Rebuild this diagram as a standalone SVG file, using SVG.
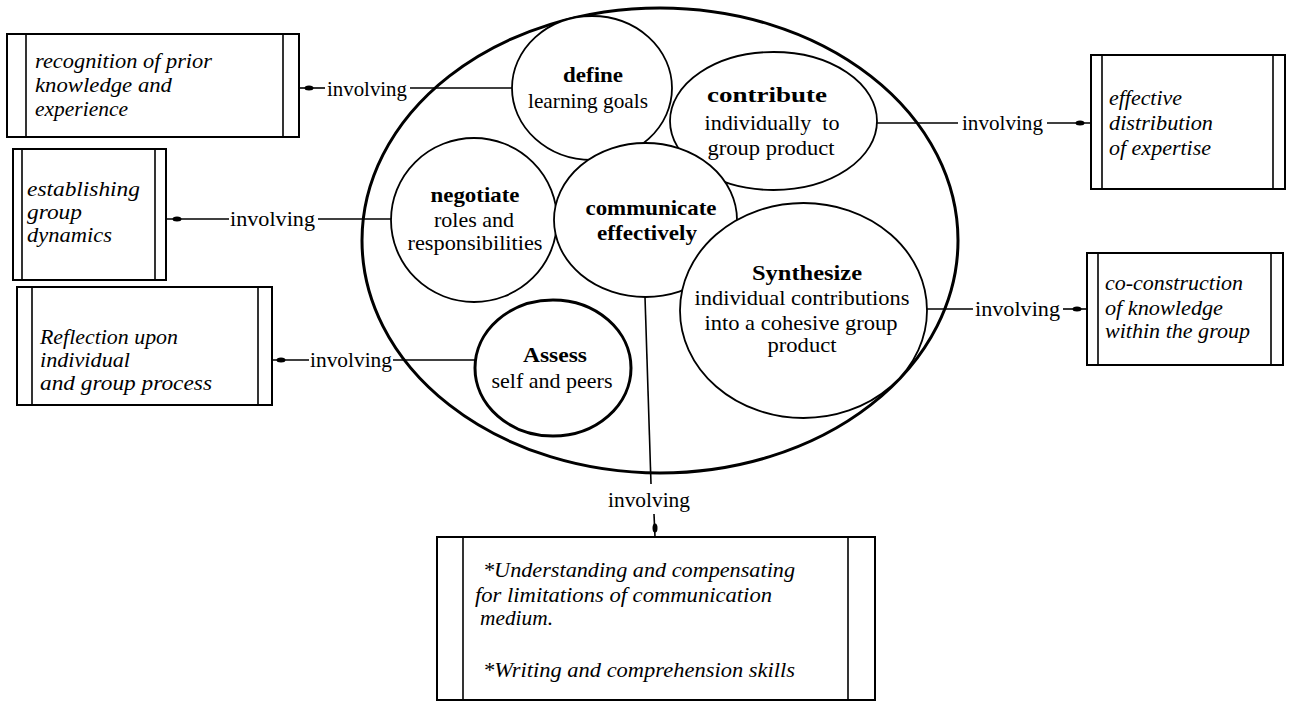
<svg xmlns="http://www.w3.org/2000/svg" width="1289" height="702" viewBox="0 0 1289 702">
<defs>
<style>
.bg{fill:#fff}
.box{fill:#fff;stroke:#000;stroke-width:2}
.bar{stroke:#000;stroke-width:1.6;fill:none}
.ell{fill:#fff;stroke:#000;stroke-width:1.8}
.big{fill:#fff;stroke:#000;stroke-width:3}
.thick{fill:#fff;stroke:#000;stroke-width:3}
.ln{stroke:#000;stroke-width:1.6;fill:none}
.dot{fill:#000}
.it{font-family:"Liberation Serif",serif;font-style:italic;font-size:21px;fill:#000}
.rg{font-family:"Liberation Serif",serif;font-size:21px;fill:#000;text-anchor:middle}
.bd{font-family:"Liberation Serif",serif;font-weight:bold;font-size:21px;fill:#000;text-anchor:middle}
.lb{font-family:"Liberation Serif",serif;font-size:21px;fill:#000}
</style>
</defs>
<rect class="bg" x="0" y="0" width="1289" height="702"/>

<g id="scope">
<ellipse class="big" cx="660" cy="240.5" rx="298" ry="232.5"/>
</g>

<g id="connectors">
<line class="ln" x1="299" y1="88" x2="325" y2="88"/>
<ellipse class="dot" cx="309" cy="88" rx="4.5" ry="2.5"/>
<text class="lb" x="327" y="96" textLength="80" lengthAdjust="spacingAndGlyphs">involving</text>
<line class="ln" x1="410" y1="88" x2="512" y2="88"/>
<line class="ln" x1="166" y1="219" x2="229" y2="219"/>
<ellipse class="dot" cx="177" cy="219" rx="4.5" ry="2.5"/>
<text class="lb" x="230" y="226" textLength="85" lengthAdjust="spacingAndGlyphs">involving</text>
<line class="ln" x1="318" y1="219" x2="392" y2="219"/>
<line class="ln" x1="272" y1="360" x2="309" y2="360"/>
<ellipse class="dot" cx="281" cy="360" rx="4.5" ry="2.5"/>
<text class="lb" x="310" y="367" textLength="82" lengthAdjust="spacingAndGlyphs">involving</text>
<line class="ln" x1="393" y1="360" x2="476" y2="360"/>
<line class="ln" x1="876" y1="123" x2="958" y2="123"/>
<text class="lb" x="962" y="130" textLength="81" lengthAdjust="spacingAndGlyphs">involving</text>
<line class="ln" x1="1047" y1="123" x2="1091" y2="123"/>
<ellipse class="dot" cx="1080" cy="123" rx="4.5" ry="2.5"/>
<line class="ln" x1="926" y1="309" x2="973" y2="309"/>
<text class="lb" x="975" y="316" textLength="85" lengthAdjust="spacingAndGlyphs">involving</text>
<line class="ln" x1="1063" y1="309" x2="1087" y2="309"/>
<ellipse class="dot" cx="1077" cy="309" rx="4.5" ry="2.5"/>
<line class="ln" x1="645" y1="297" x2="651" y2="484"/>
<text class="lb" x="608" y="507" textLength="82" lengthAdjust="spacingAndGlyphs">involving</text>
<line class="ln" x1="654" y1="514" x2="655" y2="537"/>
<ellipse class="dot" cx="655" cy="528" rx="2.5" ry="4.5"/>
</g>

<g id="define">
<ellipse class="ell" cx="592" cy="88" rx="80" ry="72"/>
<text class="bd" x="593" y="82" textLength="60" lengthAdjust="spacingAndGlyphs">define</text>
<text class="rg" x="588" y="108" textLength="120" lengthAdjust="spacingAndGlyphs">learning goals</text>
</g>

<g id="contribute">
<ellipse class="ell" cx="773.5" cy="121" rx="103.5" ry="69"/>
<text class="bd" x="767" y="102" textLength="120" lengthAdjust="spacingAndGlyphs">contribute</text>
<text class="rg" x="772" y="130" textLength="135" lengthAdjust="spacingAndGlyphs" xml:space="preserve">individually  to</text>
<text class="rg" x="771" y="155" textLength="127" lengthAdjust="spacingAndGlyphs">group product</text>
</g>

<g id="negotiate">
<ellipse class="ell" cx="474" cy="220" rx="83" ry="82"/>
<text class="bd" x="475" y="202" textLength="89" lengthAdjust="spacingAndGlyphs">negotiate</text>
<text class="rg" x="474" y="227" textLength="80" lengthAdjust="spacingAndGlyphs">roles and</text>
<text class="rg" x="475" y="250" textLength="135" lengthAdjust="spacingAndGlyphs">responsibilities</text>
</g>

<g id="communicate">
<ellipse class="ell" cx="645.5" cy="220" rx="91.5" ry="77"/>
<text class="bd" x="651" y="215" textLength="131" lengthAdjust="spacingAndGlyphs">communicate</text>
<text class="bd" x="647" y="240" textLength="100" lengthAdjust="spacingAndGlyphs">effectively</text>
</g>

<g id="synthesize">
<ellipse class="ell" cx="803.5" cy="310.5" rx="123.5" ry="107.5"/>
<text class="bd" x="807" y="280" textLength="110" lengthAdjust="spacingAndGlyphs">Synthesize</text>
<text class="rg" x="802" y="305" textLength="215" lengthAdjust="spacingAndGlyphs">individual contributions</text>
<text class="rg" x="801" y="330" textLength="193" lengthAdjust="spacingAndGlyphs">into a cohesive group</text>
<text class="rg" x="802" y="352" textLength="69" lengthAdjust="spacingAndGlyphs">product</text>
</g>

<g id="assess">
<ellipse class="thick" cx="553" cy="368" rx="78" ry="68"/>
<text class="bd" x="555" y="362" textLength="64" lengthAdjust="spacingAndGlyphs">Assess</text>
<text class="rg" x="552" y="388" textLength="121" lengthAdjust="spacingAndGlyphs">self and peers</text>
</g>

<g id="box-recognition">
<rect class="box" x="7" y="34" width="292" height="103"/>
<line class="bar" x1="26" y1="34" x2="26" y2="137"/>
<line class="bar" x1="283" y1="34" x2="283" y2="137"/>
<text class="it" x="35" y="68" textLength="177" lengthAdjust="spacingAndGlyphs">recognition of prior</text>
<text class="it" x="35" y="92" textLength="137" lengthAdjust="spacingAndGlyphs">knowledge and</text>
<text class="it" x="35" y="116" textLength="93" lengthAdjust="spacingAndGlyphs">experience</text>
</g>

<g id="box-establishing">
<rect class="box" x="13" y="149" width="153" height="131"/>
<line class="bar" x1="22" y1="149" x2="22" y2="280"/>
<line class="bar" x1="155" y1="149" x2="155" y2="280"/>
<text class="it" x="27" y="196" textLength="113" lengthAdjust="spacingAndGlyphs">establishing</text>
<text class="it" x="27" y="219" textLength="55" lengthAdjust="spacingAndGlyphs">group</text>
<text class="it" x="27" y="242" textLength="85" lengthAdjust="spacingAndGlyphs">dynamics</text>
</g>

<g id="box-reflection">
<rect class="box" x="17" y="287" width="255" height="118"/>
<line class="bar" x1="32" y1="287" x2="32" y2="405"/>
<line class="bar" x1="258" y1="287" x2="258" y2="405"/>
<text class="it" x="40" y="344" textLength="138" lengthAdjust="spacingAndGlyphs">Reflection upon</text>
<text class="it" x="40" y="367" textLength="90" lengthAdjust="spacingAndGlyphs">individual</text>
<text class="it" x="40" y="390" textLength="172" lengthAdjust="spacingAndGlyphs">and group process</text>
</g>

<g id="box-expertise">
<rect class="box" x="1091" y="55" width="194" height="134"/>
<line class="bar" x1="1102" y1="55" x2="1102" y2="189"/>
<line class="bar" x1="1273" y1="55" x2="1273" y2="189"/>
<text class="it" x="1109" y="105" textLength="73" lengthAdjust="spacingAndGlyphs">effective</text>
<text class="it" x="1109" y="130" textLength="104" lengthAdjust="spacingAndGlyphs">distribution</text>
<text class="it" x="1109" y="155" textLength="102" lengthAdjust="spacingAndGlyphs">of expertise</text>
</g>

<g id="box-coconstruction">
<rect class="box" x="1087" y="253" width="196" height="112"/>
<line class="bar" x1="1098" y1="253" x2="1098" y2="365"/>
<line class="bar" x1="1271" y1="253" x2="1271" y2="365"/>
<text class="it" x="1105" y="290" textLength="138" lengthAdjust="spacingAndGlyphs">co-construction</text>
<text class="it" x="1105" y="315" textLength="118" lengthAdjust="spacingAndGlyphs">of knowledge</text>
<text class="it" x="1105" y="338" textLength="145" lengthAdjust="spacingAndGlyphs">within the group</text>
</g>

<g id="box-communication">
<rect class="box" x="437" y="537" width="438" height="163"/>
<line class="bar" x1="463" y1="537" x2="463" y2="700"/>
<line class="bar" x1="848" y1="537" x2="848" y2="700"/>
<text class="it" x="483" y="577" textLength="312" lengthAdjust="spacingAndGlyphs">*Understanding and compensating</text>
<text class="it" x="475" y="602" textLength="297" lengthAdjust="spacingAndGlyphs">for limitations of communication</text>
<text class="it" x="480" y="625" textLength="73" lengthAdjust="spacingAndGlyphs">medium.</text>
<text class="it" x="483" y="677" textLength="312" lengthAdjust="spacingAndGlyphs">*Writing and comprehension skills</text>
</g>
</svg>
